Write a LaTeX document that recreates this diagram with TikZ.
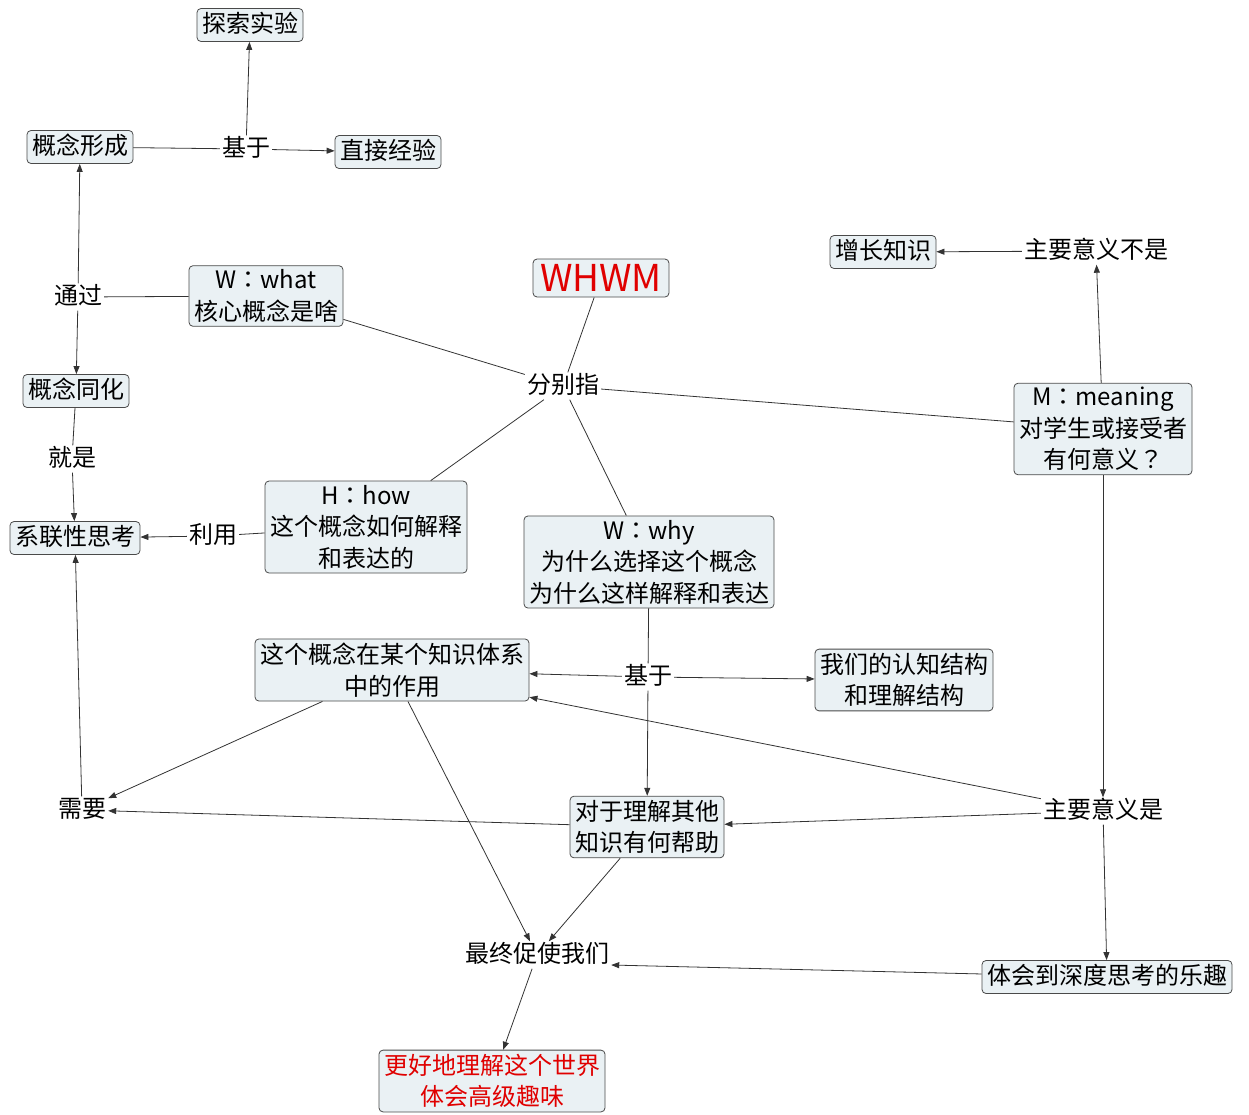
\documentclass[tikz,border=0pt]{standalone}
\usepackage{fontspec}
\setmainfont{Noto Sans CJK SC}
\newfontfamily\tcpunct{Noto Sans CJK TC}
\newcommand{\fwcolon}{{\tcpunct ：}}
\usetikzlibrary{arrows.meta}
\definecolor{boxfill}{HTML}{EAF1F4}
\definecolor{boxline}{HTML}{4A4A4A}
\definecolor{wire}{HTML}{333333}
\definecolor{hired}{HTML}{E00000}
\begin{document}
\begin{tikzpicture}[x=1pt,y=-1pt,
	font=\fontsize{24}{31.5}\selectfont,
	concept/.style={draw=boxline,fill=boxfill,rounded corners=4pt,line width=0.8pt,inner xsep=5pt,inner ysep=4pt,align=center},
	oneline/.style={text height=20pt,text depth=5pt},
	linkword/.style={inner sep=2pt,text height=19pt,text depth=4pt},
	link/.style={draw=wire,line width=0.8pt},
	arr/.style={link,-{Triangle[length=8pt,width=6pt]}}]
	\useasboundingbox (0,0) rectangle (1249,1114);
	\node[concept,oneline] (tansuo) at (250,25) {探索实验};
	\node[concept,oneline] (xingcheng) at (80,147) {概念形成};
	\node[linkword] (jiyu1) at (246,149) {基于};
	\node[concept,oneline] (zhijie) at (388,152) {直接经验};
	\node[linkword] (tongguo) at (78,297) {通过};
	\node[concept] (what) at (266,296) {W\fwcolon what\\核心概念是啥};
	\node[concept,text=hired,font=\fontsize{37}{40}\selectfont,text height=28pt,text depth=2pt,inner xsep=7pt,inner ysep=4pt] (whwm) at (601,278) {WHWM};
	\node[linkword] (fenbie) at (563,386) {分别指};
	\node[concept,oneline] (tonghua) at (76,391) {概念同化};
	\node[linkword] (jiushi) at (72,459) {就是};
	\node[concept,oneline] (xilian) at (75,538) {系联性思考};
	\node[linkword] (liyong) at (213,536) {利用};
	\node[concept] (how) at (366,527) {H\fwcolon how\\这个概念如何解释\\和表达的};
	\node[concept] (why) at (649,562) {W\fwcolon why\\为什么选择这个概念\\为什么这样解释和表达};
	\node[concept,oneline] (zengzhang) at (883,252) {增长知识};
	\node[linkword] (bushi) at (1096,251) {主要意义不是};
	\node[concept] (meaning) at (1103,429) {M\fwcolon meaning\\对学生或接受者\\有何意义{\tcpunct ？}};
	\node[concept] (zuoyong) at (392,670) {这个概念在某个知识体系\\中的作用};
	\node[linkword] (jiyu2) at (648,677) {基于};
	\node[concept] (renzhi) at (904,680) {我们的认知结构\\和理解结构};
	\node[linkword] (xuyao) at (82,810) {需要};
	\node[concept] (bangzhu) at (647,827) {对于理解其他\\知识有何帮助};
	\node[linkword] (shi) at (1103,811) {主要意义是};
	\node[linkword] (cushi) at (537,955) {最终促使我们};
	\node[concept,oneline] (lequ) at (1107,977) {体会到深度思考的乐趣};
	\node[concept,text=hired] (shijie) at (492,1081) {更好地理解这个世界\\体会高级趣味};
	\draw[link] (xingcheng) -- (jiyu1);
	\draw[arr] (jiyu1) -- (tansuo);
	\draw[arr] (jiyu1) -- (zhijie);
	\draw[link] (what) -- (tongguo);
	\draw[arr] (tongguo) -- (xingcheng);
	\draw[arr] (tongguo) -- (tonghua);
	\draw[link] (tonghua) -- (jiushi);
	\draw[arr] (jiushi) -- (xilian);
	\draw[link] (whwm) -- (fenbie);
	\draw[link] (fenbie) -- (what);
	\draw[link] (fenbie) -- (how);
	\draw[link] (fenbie) -- (why);
	\draw[link] (fenbie) -- (meaning);
	\draw[link] (how) -- (liyong);
	\draw[arr] (liyong) -- (xilian);
	\draw[arr] (meaning) -- (bushi);
	\draw[arr] (bushi) -- (zengzhang);
	\draw[arr] (meaning) -- (shi);
	\draw[arr] (shi) -- (zuoyong);
	\draw[arr] (shi) -- (bangzhu);
	\draw[arr] (shi) -- (lequ);
	\draw[link] (why) -- (jiyu2);
	\draw[arr] (jiyu2) -- (zuoyong);
	\draw[arr] (jiyu2) -- (renzhi);
	\draw[arr] (jiyu2) -- (bangzhu);
	\draw[arr] (zuoyong) -- (xuyao);
	\draw[arr] (bangzhu) -- (xuyao);
	\draw[arr] (xuyao) -- (xilian);
	\draw[arr] (zuoyong) -- (cushi);
	\draw[arr] (bangzhu) -- (cushi);
	\draw[arr] (lequ) -- ([yshift=-10pt]cushi.east);
	\draw[arr] (cushi) -- (shijie);
\end{tikzpicture}
\end{document}
